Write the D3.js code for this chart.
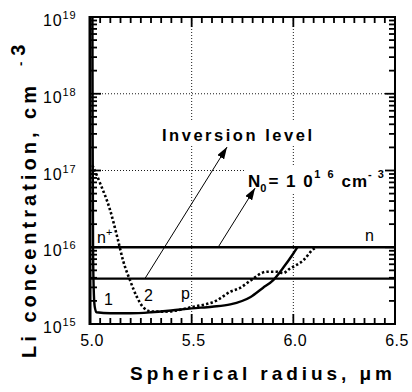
<!DOCTYPE html>
<html>
<head>
<meta charset="utf-8">
<script src="https://cdn.jsdelivr.net/npm/d3@7"></script>
<style>
  body { margin: 0; background: #fff; }
  svg { display: block; }
  text { font-family: "Liberation Sans", Arial, sans-serif; fill: #000; }
</style>
</head>
<body>
<svg id="chart" width="412" height="392"></svg>
<script>
// Li concentration profile, curve 1 (solid)
const radius1 = [5.012, 5.013, 5.015, 5.018, 5.023, 5.032, 5.10, 5.20, 5.30, 5.40, 5.50, 5.60, 5.69, 5.79, 5.85, 5.90, 5.95, 6.00, 6.02];
const conc1   = [1e19, 3e17, 1e16, 3e15, 1.7e15, 1.42e15, 1.38e15, 1.38e15, 1.42e15, 1.5e15, 1.6e15, 1.68e15, 1.8e15, 2.25e15, 2.95e15, 3.7e15, 5.4e15, 8.3e15, 1e16];

// Li concentration profile, curve 2 (dotted)
const radius2 = [5.012, 5.049, 5.098, 5.138, 5.162, 5.197, 5.231, 5.261, 5.305, 5.369, 5.50, 5.625, 5.69, 5.738, 5.79, 5.87, 5.92, 5.95, 5.98, 6.05, 6.10, 6.115];
const conc2   = [1.17e17, 6.9e16, 3.1e16, 1.23e16, 6.8e15, 3.7e15, 2.24e15, 1.66e15, 1.45e15, 1.45e15, 1.66e15, 2.04e15, 2.63e15, 2.95e15, 3.7e15, 4.8e15, 4.8e15, 4.6e15, 5.2e15, 6.8e15, 9.5e15, 1e16];

// Background donor level N0 and the inversion level
const donorLevel = 1e16;
const inversionLevel = 3.9e15;

// Axis ticks and labels
const xTicks = [5.0, 5.5, 6.0, 6.5];
const xTickLabels = ["5.0", "5.5", "6.0", "6.5"];
const yTicks = [1e15, 1e16, 1e17, 1e18, 1e19];
const yTickExponents = ["15", "16", "17", "18", "19"];
const xGrid = [5.5, 6.0];
const yGrid = [1e17, 1e18];

const svg = d3.select("#chart");
const L = 90, R = 395, T = 17, B = 324;

const x = d3.scaleLinear().domain([5.0, 6.5]).range([L, R]);
const y = d3.scaleLog().domain([1e15, 1e19]).range([B, T]);

// inward ticks on all four sides
const xMinor = d3.range(0, 31).map(i => +(5 + i * 0.05).toFixed(2));
const isMajorX = v => Math.abs(v * 2 - Math.round(v * 2)) < 1e-6;
const yAll = y.ticks();
const isMajorY = v => Math.abs(Math.log10(v) - Math.round(Math.log10(v))) < 1e-6;
const tickLen = major => major ? 10 : 6;

const tg = svg.append("g");
tg.selectAll("line.tb").data(xMinor).join("line").attr("class", "tb")
  .attr("x1", d => x(d)).attr("x2", d => x(d))
  .attr("y1", B).attr("y2", d => B - tickLen(isMajorX(d)))
  .attr("stroke", "#000").attr("stroke-width", 1.8);
tg.selectAll("line.tt").data(xMinor).join("line").attr("class", "tt")
  .attr("x1", d => x(d)).attr("x2", d => x(d))
  .attr("y1", T).attr("y2", d => T + tickLen(isMajorX(d)))
  .attr("stroke", "#000").attr("stroke-width", 1.8);
tg.selectAll("line.tl").data(yAll).join("line").attr("class", "tl")
  .attr("x1", L).attr("x2", d => L + tickLen(isMajorY(d)) + 1)
  .attr("y1", d => y(d)).attr("y2", d => y(d))
  .attr("stroke", "#000").attr("stroke-width", 1.8);
tg.selectAll("line.tr").data(yAll).join("line").attr("class", "tr")
  .attr("x1", R).attr("x2", d => R - tickLen(isMajorY(d)))
  .attr("y1", d => y(d)).attr("y2", d => y(d))
  .attr("stroke", "#000").attr("stroke-width", 1.8);

// dotted grid
const grid = svg.append("g");
grid.selectAll("line.gx").data(xGrid).join("line").attr("class", "gx")
  .attr("x1", d => x(d)).attr("x2", d => x(d))
  .attr("y1", T).attr("y2", B);
grid.selectAll("line.gy").data(yGrid).join("line").attr("class", "gy")
  .attr("x1", L).attr("x2", R)
  .attr("y1", d => y(d)).attr("y2", d => y(d));
grid.selectAll("line").attr("stroke", "#000").attr("stroke-width", 0.9)
  .attr("stroke-dasharray", "1,2");

// white backing behind the annotations so the grid breaks around them
svg.append("rect").attr("x", 160).attr("y", 122).attr("width", 156).attr("height", 24).attr("fill", "#fff");
svg.append("rect").attr("x", 246).attr("y", 165).attr("width", R - 256).attr("height", 27).attr("fill", "#fff");

// level lines
svg.append("g").selectAll("line").data([donorLevel, inversionLevel]).join("line")
  .attr("x1", L).attr("x2", R)
  .attr("y1", d => y(d)).attr("y2", d => y(d))
  .attr("stroke", "#000").attr("stroke-width", 2.4);

const line = d3.line().x(d => x(d[0])).y(d => y(d[1])).curve(d3.curveMonotoneX);

svg.append("path")
  .datum(radius1.map((r, i) => [r, conc1[i]]))
  .attr("d", line)
  .attr("fill", "none").attr("stroke", "#000").attr("stroke-width", 2.4);

svg.append("path")
  .datum(radius2.map((r, i) => [r, conc2[i]]))
  .attr("d", line)
  .attr("fill", "none").attr("stroke", "#000").attr("stroke-width", 2.6)
  .attr("stroke-dasharray", "2.4,2.2");

// arrows
svg.append("defs").append("marker")
  .attr("id", "head").attr("viewBox", "0 0 12 8")
  .attr("refX", 12).attr("refY", 4)
  .attr("markerWidth", 12).attr("markerHeight", 8)
  .attr("markerUnits", "userSpaceOnUse")
  .attr("orient", "auto")
  .append("path").attr("d", "M0,0 L12,4 L0,8 Z").attr("fill", "#000");

const arrows = [
  { from: [5.27, inversionLevel], to: [5.674, 2.02e17] },
  { from: [5.63, donorLevel], to: [5.812, 5.9e16] }
];
svg.append("g").selectAll("line").data(arrows).join("line")
  .attr("x1", d => x(d.from[0])).attr("y1", d => y(d.from[1]))
  .attr("x2", d => x(d.to[0])).attr("y2", d => y(d.to[1]))
  .attr("stroke", "#000").attr("stroke-width", 1)
  .attr("marker-end", "url(#head)");

// frame
svg.append("rect").attr("x", L).attr("y", T).attr("width", R - L).attr("height", B - T)
  .attr("fill", "none").attr("stroke", "#000").attr("stroke-width", 2);
svg.append("line").attr("x1", L).attr("x2", L).attr("y1", T - 1).attr("y2", B + 1)
  .attr("stroke", "#000").attr("stroke-width", 3);

// tick labels
svg.append("g").selectAll("text").data(xTicks).join("text")
  .attr("x", d => x(d) + 2).attr("y", 346)
  .attr("text-anchor", "middle").attr("font-size", 16).attr("letter-spacing", 0.5)
  .text((d, i) => xTickLabels[i]);

const yl = svg.append("g").selectAll("text").data(yTicks).join("text")
  .attr("x", 43).attr("y", d => y(d) + 9)
  .attr("font-size", 16).attr("letter-spacing", 0.8);
yl.append("tspan").text("10");
yl.append("tspan").attr("dy", -7).attr("font-size", 11).attr("letter-spacing", 1)
  .text((d, i) => yTickExponents[i]);

// axis titles
svg.append("text").attr("x", 130).attr("y", 380)
  .attr("font-size", 19).attr("font-weight", "bold")
  .attr("textLength", 262).attr("lengthAdjust", "spacing")
  .text("Spherical  radius,  \u03bcm");

const yt = svg.append("text").attr("transform", "translate(36,358) rotate(-90)")
  .attr("font-size", 20).attr("font-weight", "bold");
yt.append("tspan").attr("textLength", 272).attr("lengthAdjust", "spacing").text("Li  concentration,  cm");
yt.append("tspan").attr("dx", 16).attr("dy", -11).attr("font-size", 13).text("-");
yt.append("tspan").attr("dx", 6).text("3");

// annotations
svg.append("text").attr("x", 162).attr("y", 141)
  .attr("font-size", 16.5).attr("font-weight", "bold")
  .attr("textLength", 150).attr("lengthAdjust", "spacing")
  .text("Inversion   level");

const n0 = svg.append("text").attr("x", 248).attr("y", 187)
  .attr("font-size", 17).attr("font-weight", "bold");
n0.append("tspan").text("N");
n0.append("tspan").attr("dy", 5).attr("font-size", 11).text("0");
n0.append("tspan").attr("dy", -5).attr("dx", 2).attr("letter-spacing", 1.5).text("= 1 0");
n0.append("tspan").attr("dy", -9).attr("font-size", 11).attr("letter-spacing", 2).text("1 6");
n0.append("tspan").attr("dy", 9).attr("dx", 6).attr("letter-spacing", 1).text("cm");
n0.append("tspan").attr("dy", -9).attr("font-size", 11).attr("letter-spacing", 1.5).text("-  3");

const plain = svg.append("g").attr("font-size", 16);
const np = plain.append("text").attr("x", 97).attr("y", 243);
np.append("tspan").text("n");
np.append("tspan").attr("dy", -7).attr("font-size", 11).text("+");
plain.append("text").attr("x", 104).attr("y", 305).text("1");
plain.append("text").attr("x", 144).attr("y", 301).text("2");
plain.append("text").attr("x", 181).attr("y", 299).text("p");
plain.append("text").attr("x", 365).attr("y", 241).text("n");
</script>
</body>
</html>
